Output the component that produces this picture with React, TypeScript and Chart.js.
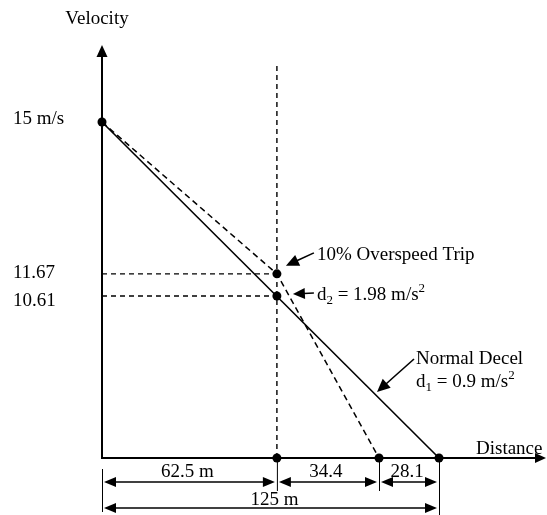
import React, { useEffect, useRef } from 'react';
import { Chart, registerables, LinearScale } from 'chart.js';

// ---------------- data ----------------
const normalDecelDistance = [0, 125];
const normalDecelVelocity = [15, 0];
const overspeedDistance = [0, 62.5, 96.9];
const overspeedVelocity = [15, 11.67, 0];
const markerDistance = [0, 62.5, 62.5, 62.5, 96.9, 125];
const markerVelocity = [15, 11.67, 10.61, 0, 0, 0];
const tripDistance = 62.5;
const guideVelocities = [11.67, 10.61];
const yTickValues = [15, 11.67, 10.61];
const yTickLabels = ['15 m/s', '11.67', '10.61'];
const segmentStarts = [0, 62.5, 96.9];
const segmentEnds = [62.5, 96.9, 125];
const segmentLabels = ['62.5 m', '34.4', '28.1'];
const totalDistance = 125;
const totalLabel = '125 m';
const tripLabel = '10% Overspeed Trip';
const normalLabel = 'Normal Decel';
const d1Value = '0.9';
const d2Value = '1.98';

// -------- schematic (not to scale) axis breaks: value -> fraction of axis --------
const AXIS_BREAKS: Record<string, { values: number[]; fractions: number[] }> = {
  x: { values: [0, 62.5, 96.9, 125], fractions: [0, 0.519, 0.822, 1] },
  y: { values: [0, 10.61, 11.67, 15], fractions: [0, 0.482, 0.548, 1] },
};

function interp(xs: number[], ys: number[], v: number) {
  const n = xs.length;
  let i = 0;
  if (v >= xs[n - 1]) i = n - 2;
  else if (v > xs[0]) {
    while (i < n - 2 && v > xs[i + 1]) i++;
  }
  const t = (v - xs[i]) / (xs[i + 1] - xs[i]);
  return ys[i] + t * (ys[i + 1] - ys[i]);
}

class SchematicScale extends LinearScale {
  static id = 'schematic';
  getPixelForValue(value: any) {
    if (value === null || value === undefined || Number.isNaN(+value)) return NaN;
    const b = AXIS_BREAKS[(this as any).id];
    if (!b) return super.getPixelForValue(value);
    return (this as any).getPixelForDecimal(interp(b.values, b.fractions, +value));
  }
  getValueForPixel(pixel: number) {
    const b = AXIS_BREAKS[(this as any).id];
    if (!b) return super.getValueForPixel(pixel);
    return interp(b.fractions, b.values, (this as any).getDecimalForPixel(pixel));
  }
}

Chart.register(...registerables);
Chart.registry.addScales(SchematicScale as any);

const FS = 19;
const FONT = `${FS}px "Liberation Serif", "Times New Roman", serif`;
const SMALL = `13px "Liberation Serif", "Times New Roman", serif`;

function line(ctx: CanvasRenderingContext2D, x1: number, y1: number, x2: number, y2: number) {
  ctx.beginPath();
  ctx.moveTo(x1, y1);
  ctx.lineTo(x2, y2);
  ctx.stroke();
}

function head(ctx: CanvasRenderingContext2D, fx: number, fy: number, tx: number, ty: number, len: number, half: number) {
  const a = Math.atan2(ty - fy, tx - fx);
  const bx = tx - len * Math.cos(a);
  const by = ty - len * Math.sin(a);
  ctx.beginPath();
  ctx.moveTo(tx, ty);
  ctx.lineTo(bx + half * Math.sin(a), by - half * Math.cos(a));
  ctx.lineTo(bx - half * Math.sin(a), by + half * Math.cos(a));
  ctx.closePath();
  ctx.fill();
}

function arrow(ctx: CanvasRenderingContext2D, fx: number, fy: number, tx: number, ty: number, len = 11, half = 5) {
  const a = Math.atan2(ty - fy, tx - fx);
  line(ctx, fx, fy, tx - (len - 1) * Math.cos(a), ty - (len - 1) * Math.sin(a));
  head(ctx, fx, fy, tx, ty, len, half);
}

function doubleArrow(ctx: CanvasRenderingContext2D, x1: number, x2: number, y: number) {
  line(ctx, x1 + 8, y, x2 - 8, y);
  head(ctx, x2, y, x1, y, 12, 5);
  head(ctx, x1, y, x2, y, 12, 5);
}

// text with subscript / superscript pieces: [text, mode]
function richText(ctx: CanvasRenderingContext2D, parts: [string, string][], x: number, y: number) {
  let cx = x;
  for (const [t, mode] of parts) {
    if (mode === 'sub') {
      ctx.font = SMALL;
      ctx.fillText(t, cx, y + 4);
    } else if (mode === 'sup') {
      ctx.font = SMALL;
      ctx.fillText(t, cx, y - 8);
    } else {
      ctx.font = FONT;
      ctx.fillText(t, cx, y);
    }
    cx += ctx.measureText(t).width;
  }
}

const yLabelNudge = [2, 4, 10];

const diagramPlugin = {
  id: 'diagram',
  beforeDatasetsDraw(chart: any) {
    const { ctx, chartArea } = chart;
    const { left, bottom } = chartArea;
    const xs = chart.scales.x;
    ctx.save();
    ctx.strokeStyle = '#000';
    ctx.fillStyle = '#000';
    ctx.lineWidth = 2;
    // y axis with arrow
    line(ctx, left, bottom + 1, left, 52);
    head(ctx, left, bottom, left, 45, 12, 5.5);
    // x axis with arrow
    line(ctx, left - 1, bottom, 537, bottom);
    head(ctx, left, bottom, 546, bottom, 11, 5);
    // vertical trip guide
    ctx.lineWidth = 1.4;
    ctx.setLineDash([5, 4]);
    const tx = xs.getPixelForValue(tripDistance);
    line(ctx, tx, bottom, tx, 63);
    ctx.restore();
  },
  afterDatasetsDraw(chart: any) {
    const { ctx, chartArea } = chart;
    const { left, right, bottom } = chartArea;
    const xs = chart.scales.x;
    const ys = chart.scales.y;
    ctx.save();
    ctx.fillStyle = '#000';
    ctx.strokeStyle = '#000';
    ctx.font = FONT;
    ctx.textBaseline = 'alphabetic';

    // axis titles
    ctx.textAlign = 'center';
    ctx.fillText('Velocity', left - 5, 24);
    ctx.textAlign = 'left';
    ctx.fillText('Distance', 476, bottom - 4);

    // y tick labels
    yTickValues.forEach((v, i) => {
      ctx.fillText(yTickLabels[i], 13, ys.getPixelForValue(v) + yLabelNudge[i]);
    });

    // dimension lines
    ctx.lineWidth = 1;
    const x0 = xs.getPixelForValue(0);
    const xT = xs.getPixelForValue(totalDistance);
    line(ctx, x0 + 0.5, bottom + 11, x0 + 0.5, bottom + 54);
    segmentStarts.forEach((s, i) => {
      if (i > 0) {
        const px = xs.getPixelForValue(s) + 0.5;
        line(ctx, px, bottom + 3, px, bottom + 33);
      }
    });
    line(ctx, xT + 0.5, bottom + 3, xT + 0.5, bottom + 57);

    ctx.lineWidth = 1.6;
    ctx.textAlign = 'center';
    segmentStarts.forEach((s, i) => {
      const a = xs.getPixelForValue(s);
      const b = xs.getPixelForValue(segmentEnds[i]);
      doubleArrow(ctx, a + 2, b - 2, bottom + 24);
      ctx.fillText(segmentLabels[i], (a + b) / 2 - 2, bottom + 19);
    });
    doubleArrow(ctx, x0 + 2, xT - 2, bottom + 50);
    ctx.fillText(totalLabel, (x0 + xT) / 2 + 4, bottom + 47);

    // annotations
    ctx.textAlign = 'left';
    const px = xs.getPixelForValue(tripDistance);
    const p1y = ys.getPixelForValue(guideVelocities[0]);
    const p2y = ys.getPixelForValue(guideVelocities[1]);
    ctx.lineWidth = 1.6;
    arrow(ctx, px + 37, p1y - 21, px + 9, p1y - 8, 13, 6);
    ctx.font = FONT;
    ctx.fillText(tripLabel, px + 40, p1y - 14);

    arrow(ctx, px + 37, p2y - 3, px + 16, p2y - 2, 12, 5.5);
    richText(ctx, [['d', ''], ['2', 'sub'], [` = ${d2Value} m/s`, ''], ['2', 'sup']], px + 40, p2y + 4);

    arrow(ctx, right - 25, bottom - 99, right - 62, bottom - 66, 13, 6);
    ctx.font = FONT;
    ctx.fillText(normalLabel, right - 23, bottom - 94);
    richText(ctx, [['d', ''], ['1', 'sub'], [` = ${d1Value} m/s`, ''], ['2', 'sup']], right - 23, bottom - 71);

    ctx.restore();
  },
};

const toXY = (xs: number[], ys: number[]) => xs.map((x, i) => ({ x, y: ys[i] }));

export default function App() {
  const ref = useRef<HTMLCanvasElement | null>(null);
  useEffect(() => {
    if (!ref.current) return;
    const guideSets = guideVelocities.map((v) => ({
      data: toXY([0, tripDistance], [v, v]),
      borderColor: '#000',
      borderWidth: 1.4,
      borderDash: [5, 4],
      pointRadius: 0,
      clip: false as any,
    }));
    const chart = new Chart(ref.current, {
      type: 'line',
      data: {
        datasets: [
          ...guideSets,
          {
            label: 'Normal Decel',
            data: toXY(normalDecelDistance, normalDecelVelocity),
            borderColor: '#000',
            borderWidth: 1.6,
            pointRadius: 0,
            clip: false as any,
          },
          {
            label: '10% Overspeed Trip',
            data: toXY(overspeedDistance, overspeedVelocity),
            borderColor: '#000',
            borderWidth: 1.5,
            borderDash: [6, 4],
            pointRadius: 0,
            clip: false as any,
          },
          {
            label: 'markers',
            data: toXY(markerDistance, markerVelocity),
            showLine: false,
            pointRadius: 4.5,
            pointBackgroundColor: '#000',
            pointBorderColor: '#000',
            pointBorderWidth: 0,
            clip: false as any,
          },
        ],
      },
      options: {
        responsive: false,
        animation: false,
        devicePixelRatio: 1,
        layout: { padding: { left: 102, right: 108, top: 122, bottom: 57 } },
        scales: {
          x: { type: 'schematic' as any, min: 0, max: 125, display: false },
          y: { type: 'schematic' as any, min: 0, max: 15, display: false },
        },
        plugins: {
          legend: { display: false },
          tooltip: { enabled: false },
          title: { display: false },
        },
        events: [],
      },
      plugins: [diagramPlugin],
    });
    return () => chart.destroy();
  }, []);
  return (
    <div style={{ position: 'fixed', left: 0, top: 0, width: 547, height: 515, background: '#fff' }}>
      <canvas ref={ref} width={547} height={515} style={{ display: 'block' }} />
    </div>
  );
}
